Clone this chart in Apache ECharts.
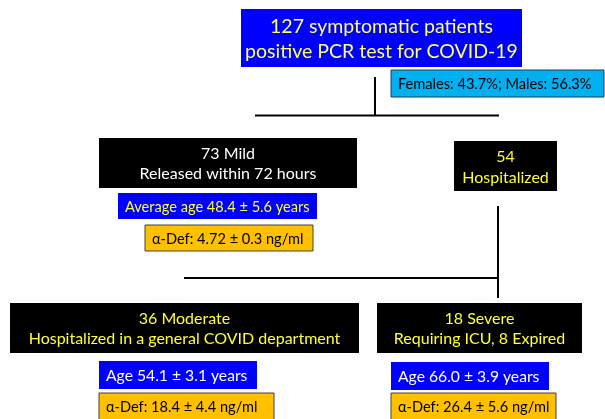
<!DOCTYPE html>
<html>
<head>
<meta charset="utf-8">
<script src="https://cdn.jsdelivr.net/npm/echarts@6/dist/echarts.min.js"></script>
<style>
  html, body { margin: 0; padding: 0; background: #fff; }
  #flow { width: 605px; height: 419px; }
</style>
</head>
<body>
<div id="flow"></div>
<script>
  // 数据
  var totalPatients = 127;
  var femalePct = 43.7;
  var malePct = 56.3;
  var groupNames = ["Mild", "Hospitalized", "Moderate", "Severe"];
  var groupCounts = [73, 54, 36, 18];
  var groupNotes = ["Released within 72 hours", "", "Hospitalized in a general COVID department", "Requiring ICU, 8 Expired"];
  var ageMean = [48.4, 54.1, 66.0];
  var ageSd = [5.6, 3.1, 3.9];
  var alphaDefMean = [4.72, 18.4, 26.4];
  var alphaDefSd = [0.3, 4.4, 5.6];

  var texts = [
    totalPatients + " symptomatic patients\npositive PCR test for COVID-19",
    "Females: " + femalePct + "%; Males: " + malePct + "%",
    groupCounts[0] + " " + groupNames[0] + "\n" + groupNotes[0],
    groupCounts[1] + "\n" + groupNames[1],
    "Average age " + ageMean[0].toFixed(1) + " ± " + ageSd[0] + " years",
    "α-Def: " + alphaDefMean[0] + " ± " + alphaDefSd[0] + " ng/ml",
    groupCounts[2] + " " + groupNames[2] + "\n" + groupNotes[2],
    groupCounts[3] + " " + groupNames[3] + "\n" + groupNotes[3],
    "Age " + ageMean[1].toFixed(1) + " ± " + ageSd[1] + " years",
    "α-Def: " + alphaDefMean[1] + " ± " + alphaDefSd[1] + " ng/ml",
    "Age " + ageMean[2].toFixed(1) + " ± " + ageSd[2] + " years",
    "α-Def: " + alphaDefMean[2] + " ± " + alphaDefSd[2] + " ng/ml",
  ];

  // 布局 (x0, y0, x1, y1) 和样式
  var layout = [
    { box: [241, 9, 522, 67], bg: "#0000ff", color: "#ffff66", size: 19.5, lh: 25, align: "center" },
    { box: [391, 70, 604, 97], bg: "#00b0f0", color: "#000", size: 14.6, lh: 18, align: "left", border: "#1f3f5f" },
    { box: [99, 138, 357, 188], bg: "#000", color: "#fff", size: 16, lh: 20, align: "center" },
    { box: [454, 141, 557, 191], bg: "#000", color: "#ffff33", size: 16, lh: 21, align: "center" },
    { box: [118, 193, 317, 219], bg: "#0000ff", color: "#ffff33", size: 14.6, lh: 18, align: "left" },
    { box: [145, 225, 313, 251], bg: "#ffc000", color: "#000", size: 14.6, lh: 18, align: "left", border: "#404040" },
    { box: [10, 303, 359, 353], bg: "#000", color: "#ffff33", size: 16, lh: 20, align: "center" },
    { box: [377, 303, 582, 353], bg: "#000", color: "#ffff33", size: 16, lh: 20, align: "center" },
    { box: [99, 361, 257, 389], bg: "#0000ff", color: "#fff", size: 15.7, lh: 18, align: "left" },
    { box: [99, 393, 274, 420], bg: "#ffc000", color: "#000", size: 14.6, lh: 18, align: "left", border: "#404040" },
    { box: [391, 362, 549, 390], bg: "#0000ff", color: "#fff", size: 15.7, lh: 18, align: "left" },
    { box: [391, 393, 556, 420], bg: "#ffc000", color: "#000", size: 14.6, lh: 18, align: "left", border: "#404040" },
  ];

  var connectors = [
    [375, 77, 375, 116],
    [255, 115.5, 499, 115.5],
    [498, 206, 498, 298],
    [184, 278, 498, 278],
  ];

  var chart = echarts.init(document.getElementById("flow"));

  var boxData = layout.map(function (l, i) {
    return [l.box[0], l.box[1], l.box[2], l.box[3], i];
  });

  var option = {
    animation: false,
    grid: { left: 0, right: 0, top: 0, bottom: 0 },
    xAxis: { type: "value", min: 0, max: 605, show: false },
    yAxis: { type: "value", min: 0, max: 419, inverse: true, show: false },
    series: [
      {
        type: "custom",
        data: connectors,
        renderItem: function (params, api) {
          var p0 = api.coord([api.value(0), api.value(1)]);
          var p1 = api.coord([api.value(2), api.value(3)]);
          return {
            type: "line",
            shape: { x1: p0[0], y1: p0[1], x2: p1[0], y2: p1[1] },
            style: { stroke: "#000", lineWidth: 2 },
          };
        },
      },
      {
        type: "custom",
        data: boxData,
        renderItem: function (params, api) {
          var i = api.value(4);
          var l = layout[i];
          var p0 = api.coord([api.value(0), api.value(1)]);
          var p1 = api.coord([api.value(2), api.value(3)]);
          var w = p1[0] - p0[0];
          var h = p1[1] - p0[1];
          var tx = l.align === "center" ? p0[0] + w / 2 : p0[0] + 7;
          return {
            type: "group",
            children: [
              {
                type: "rect",
                shape: { x: p0[0], y: p0[1], width: w, height: h },
                style: {
                  fill: l.bg,
                  stroke: l.border || null,
                  lineWidth: l.border ? 1 : 0,
                },
              },
              {
                type: "text",
                style: {
                  text: texts[i],
                  x: tx,
                  y: p0[1] + h / 2 + 1,
                  fill: l.color,
                  fontFamily: "Lato",
                  fontSize: l.size,
                  lineHeight: l.lh,
                  align: l.align,
                  verticalAlign: "middle",
                },
              },
            ],
          };
        },
      },
    ],
  };
  chart.setOption(option);
</script>
</body>
</html>
